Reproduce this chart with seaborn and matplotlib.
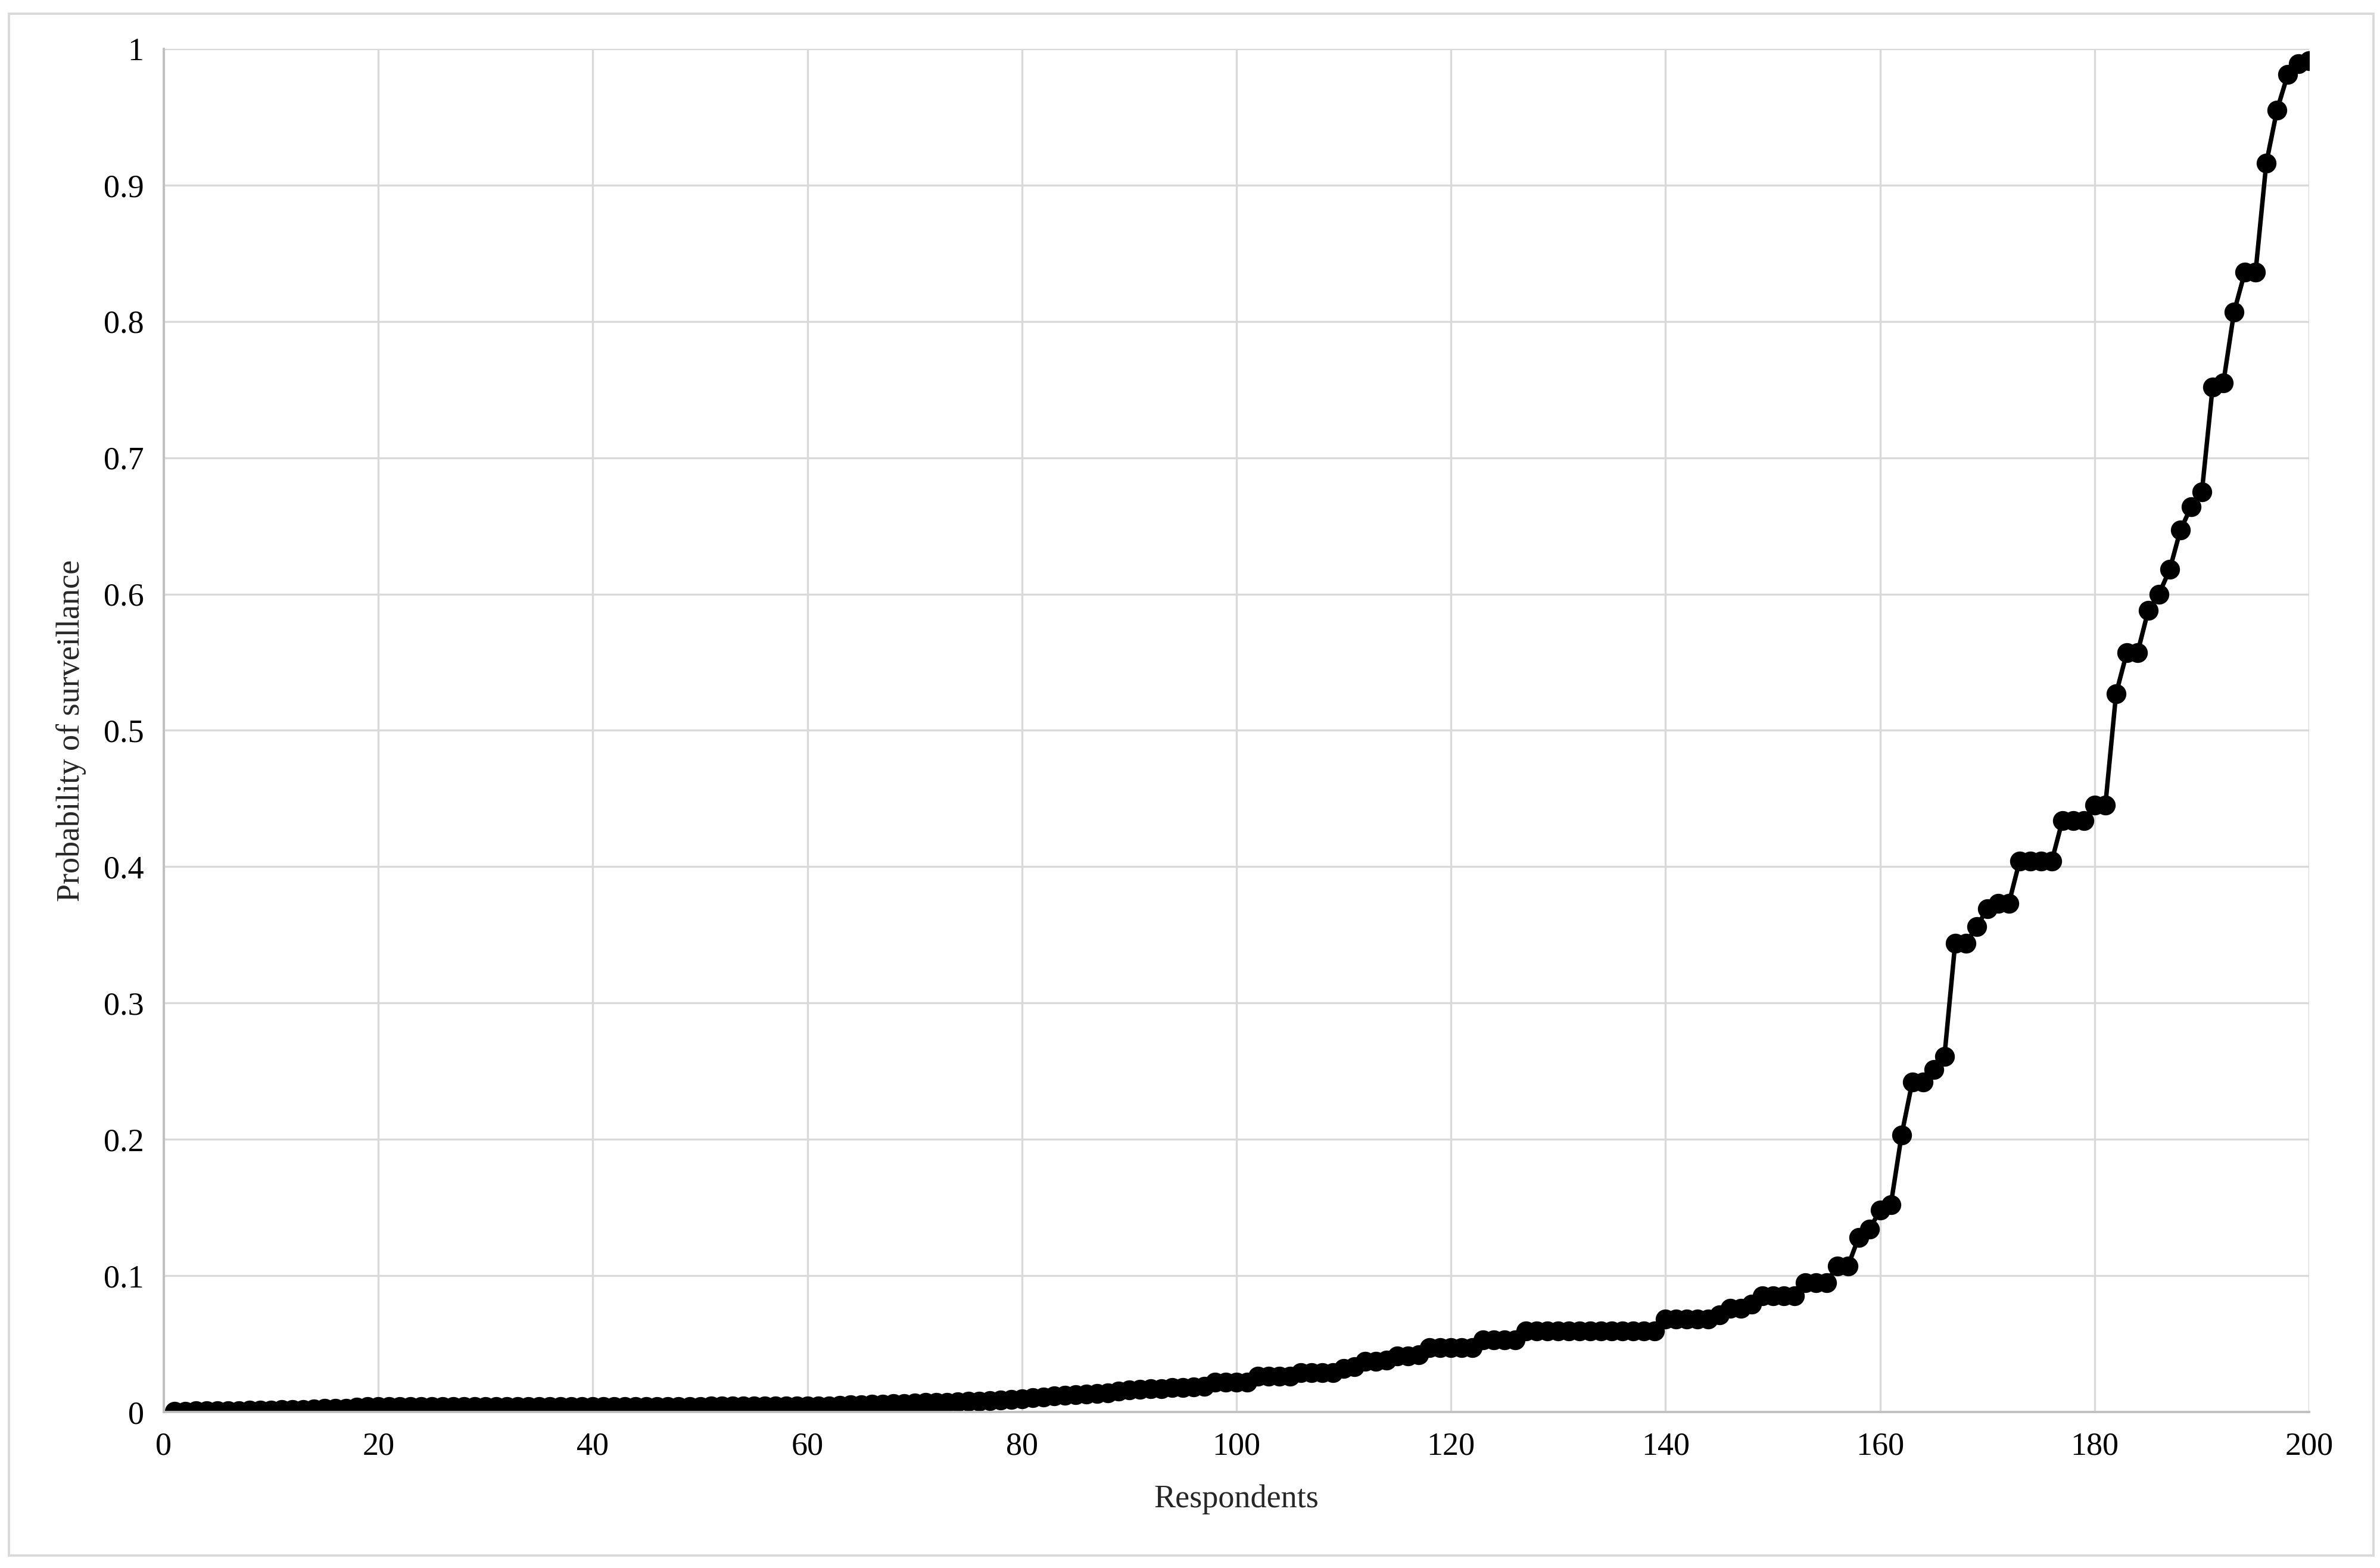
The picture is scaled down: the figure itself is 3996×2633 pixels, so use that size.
import matplotlib
matplotlib.use("Agg")
import matplotlib.pyplot as plt
import seaborn as sns
from matplotlib.patches import Rectangle
from matplotlib.ticker import FuncFormatter, MultipleLocator

# respondent number along the x axis
respondents = list(range(1, 201))

# probability of surveillance per respondent, sorted ascending
probability = [
    0.0005, 0.0006, 0.0007, 0.0008, 0.0008, 0.0009, 0.0010,
    0.0014, 0.0015, 0.0015, 0.0016, 0.0016, 0.0018,
    0.0024, 0.0025, 0.0026, 0.0028,
    0.0037, 0.0038, 0.0038, 0.0038, 0.0038, 0.0039, 0.0039, 0.0039, 0.0039, 0.0039,
    0.0039, 0.0039, 0.0040, 0.0040, 0.0040, 0.0040, 0.0040, 0.0040, 0.0040, 0.0040,
    0.0040, 0.0040, 0.0040, 0.0041, 0.0041, 0.0041, 0.0041, 0.0041, 0.0041, 0.0041,
    0.0041, 0.0041, 0.0041, 0.0042, 0.0042, 0.0042, 0.0042, 0.0042, 0.0042, 0.0042,
    0.0042, 0.0043, 0.0043, 0.0043, 0.0044,
    0.0050, 0.0052, 0.0054, 0.0055, 0.0057, 0.0060, 0.0062, 0.0065,
    0.0068, 0.0070, 0.0072, 0.0075, 0.0078, 0.0080, 0.0083, 0.0086, 0.0090, 0.0095,
    0.0105, 0.0110, 0.0118, 0.0122, 0.0128, 0.0130, 0.0135, 0.0140, 0.0155,
    0.0160, 0.0165, 0.0170, 0.0172, 0.0178, 0.0180, 0.0185, 0.0190,
    0.022, 0.022, 0.022, 0.022,
    0.026, 0.026, 0.026, 0.026,
    0.029, 0.029, 0.029, 0.029,
    0.032, 0.033,
    0.037, 0.037, 0.038,
    0.041, 0.041, 0.042,
    0.047, 0.047, 0.047, 0.047, 0.047,
    0.053, 0.053, 0.053, 0.053,
    0.0595, 0.0595, 0.0595, 0.0595, 0.0595, 0.0595, 0.0595, 0.0595, 0.0595, 0.0595,
    0.0595, 0.0595, 0.0595,
    0.068, 0.068, 0.068, 0.068, 0.068,
    0.071, 0.076, 0.076, 0.079,
    0.085, 0.085, 0.085, 0.085,
    0.095, 0.095, 0.095,
    0.107, 0.107,
    0.128, 0.134, 0.148, 0.152, 0.203, 0.242, 0.242, 0.251, 0.261,
    0.344, 0.344, 0.356, 0.369, 0.373, 0.373,
    0.404, 0.404, 0.404, 0.404,
    0.434, 0.434, 0.434,
    0.445, 0.445,
    0.527, 0.557, 0.557, 0.588, 0.600, 0.618, 0.647, 0.664, 0.675,
    0.752, 0.755, 0.807, 0.836, 0.836, 0.916, 0.955, 0.981, 0.989, 0.991,
]

sns.set_style("whitegrid")
plt.rcParams['font.family'] = ['Liberation Serif', 'DejaVu Serif']

fig = plt.figure(figsize=(13.3233, 8.7767), dpi=300)
ax = fig.add_axes([0.0688, 0.0995, 0.9012, 0.8694])

sns.lineplot(x=respondents, y=probability, ax=ax, color='black', linewidth=1.8,
             marker='o', markersize=7.5, markeredgecolor='black', markeredgewidth=0.5)

ax.set_xlim(0, 200)
ax.set_ylim(0, 1)
ax.xaxis.set_major_locator(MultipleLocator(20))
ax.yaxis.set_major_locator(MultipleLocator(0.1))
ax.yaxis.set_major_formatter(FuncFormatter(lambda v, p: f'{v:g}'))

ax.grid(True, color='#d9d9d9', linewidth=0.8)
for side in ['top', 'right']:
    ax.spines[side].set_visible(False)
for side in ['left', 'bottom']:
    ax.spines[side].set_color('#bfbfbf')
    ax.spines[side].set_linewidth(0.9)
ax.set_axisbelow(True)
ax.tick_params(length=0, labelsize=13, colors='black', pad=8)

ax.set_xlabel('Respondents', fontsize=13, labelpad=9)
ax.set_ylabel('Probability of surveillance', fontsize=13, labelpad=7)

# thin gray frame round the whole chart
fig.patches.append(Rectangle((0.0037, 0.0080), 0.9933, 0.9833, transform=fig.transFigure,
                             fill=False, edgecolor='#d9d9d9', linewidth=0.9))

fig.savefig('out.png', dpi=300, facecolor='white')
plt.close()
